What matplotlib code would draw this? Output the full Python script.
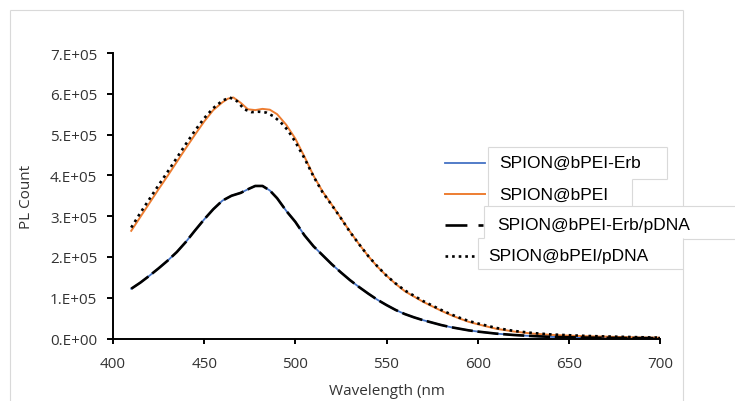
import matplotlib
matplotlib.use("Agg")
import matplotlib.pyplot as plt

# ---------------- data ----------------
wl_bpei = [410, 415, 420, 425, 430, 435, 440, 445, 450, 455, 460, 463, 466, 470, 474, 478, 482, 486, 490, 495,
           500, 505, 510, 515, 520, 525, 530, 535, 540, 545, 550, 555, 560, 565, 570, 575, 580, 585, 590, 595,
           600, 610, 620, 630, 640, 650, 660, 670, 680, 690, 700]
pl_bpei = [2.64, 2.98, 3.32, 3.66, 3.99, 4.33, 4.67, 5.00, 5.32, 5.60, 5.79, 5.88, 5.91, 5.78, 5.62, 5.60, 5.63, 5.61, 5.50, 5.24,
           4.90, 4.46, 3.99, 3.60, 3.28, 2.95, 2.62, 2.31, 2.02, 1.76, 1.54, 1.34, 1.16, 1.03, 0.90, 0.79, 0.68, 0.58, 0.49, 0.41,
           0.35, 0.24, 0.17, 0.12, 0.09, 0.07, 0.055, 0.045, 0.035, 0.025, 0.02]

wl_bpei_pdna = [410, 415, 420, 425, 430, 435, 440, 445, 450, 455, 460, 464, 468, 472, 476, 480, 484, 488, 492, 496,
                500, 505, 510, 515, 520, 525, 530, 535, 540, 545, 550, 555, 560, 565, 570, 575, 580, 585, 590, 595,
                600, 610, 620, 630, 640, 650, 660, 670, 680, 690, 700]
pl_bpei_pdna = [2.72, 3.08, 3.42, 3.76, 4.09, 4.43, 4.77, 5.10, 5.40, 5.65, 5.83, 5.91, 5.82, 5.62, 5.55, 5.56, 5.54, 5.45, 5.30, 5.10,
                4.82, 4.42, 3.97, 3.58, 3.27, 2.95, 2.61, 2.31, 2.02, 1.77, 1.54, 1.35, 1.18, 1.05, 0.92, 0.81, 0.70, 0.60, 0.51, 0.43,
                0.37, 0.26, 0.185, 0.135, 0.10, 0.08, 0.062, 0.05, 0.04, 0.03, 0.022]

wl_erb = [410, 415, 420, 425, 430, 435, 440, 445, 450, 455, 460, 465, 470, 475, 478, 482, 486, 490, 495,
          500, 505, 510, 515, 520, 525, 530, 535, 540, 545, 550, 555, 560, 565, 570, 575, 580, 585, 590, 595,
          600, 610, 620, 630, 640, 650, 660, 670, 680, 690, 700]
pl_erb = [1.22, 1.37, 1.54, 1.72, 1.91, 2.12, 2.37, 2.65, 2.92, 3.17, 3.38, 3.50, 3.57, 3.68, 3.74, 3.74, 3.63, 3.44, 3.13,
          2.86, 2.53, 2.26, 2.04, 1.82, 1.62, 1.43, 1.26, 1.10, 0.95, 0.82, 0.70, 0.60, 0.52, 0.45, 0.39, 0.33, 0.28, 0.24, 0.20,
          0.17, 0.12, 0.085, 0.06, 0.04, 0.03, 0.022, 0.016, 0.012, 0.010, 0.008]
pl_erb_pdna = [1.22, 1.37, 1.54, 1.72, 1.91, 2.12, 2.37, 2.65, 2.92, 3.17, 3.38, 3.50, 3.57, 3.68, 3.74, 3.74, 3.63, 3.44, 3.13,
               2.86, 2.53, 2.26, 2.04, 1.82, 1.62, 1.43, 1.26, 1.10, 0.95, 0.82, 0.70, 0.60, 0.52, 0.45, 0.39, 0.33, 0.28, 0.24, 0.20,
               0.17, 0.12, 0.085, 0.06, 0.04, 0.03, 0.022, 0.016, 0.012, 0.010, 0.008]
scale = 1e5

series_labels = ["SPION@bPEI-Erb", "SPION@bPEI", "SPION@bPEI-Erb/pDNA", "SPION@bPEI/pDNA"]
y_ticks = [0, 1e5, 2e5, 3e5, 4e5, 5e5, 6e5, 7e5]
y_tick_labels = ["0.E+00", "1.E+05", "2.E+05", "3.E+05", "4.E+05", "5.E+05", "6.E+05", "7.E+05"]
x_ticks = [400, 450, 500, 550, 600, 650, 700]
x_label = "Wavelength (nm"
y_label = "PL Count"

# ---------------- figure ----------------
W, H = 735, 402
fig = plt.figure(figsize=(W / 100, H / 100), dpi=100)
fig.patch.set_facecolor("white")

ax_l, ax_r, ax_t, ax_b = 113, 660, 54, 339.5
ax = fig.add_axes([ax_l / W, 1 - ax_b / H, (ax_r - ax_l) / W, (ax_b - ax_t) / H])

blue, orange = "#4472C4", "#ED7D31"
ax.plot(wl_erb, [v * scale for v in pl_erb], color=blue, lw=1.3, zorder=2)
ax.plot(wl_bpei, [v * scale for v in pl_bpei], color=orange, lw=1.4, zorder=2)
ax.plot(wl_erb, [v * scale for v in pl_erb_pdna], color="black", lw=1.9,
        dashes=(8, 1.8), dash_capstyle="butt", zorder=3)
ax.plot(wl_bpei_pdna, [v * scale for v in pl_bpei_pdna], color="black", lw=1.9,
        dashes=(1, 1.5), dash_capstyle="butt", zorder=4)

ax.set_xlim(400, 700)
ax.set_ylim(0, 7e5)
ax.set_xticks(x_ticks)
ax.set_xticklabels([str(t) for t in x_ticks])
ax.set_yticks(y_ticks)
ax.set_yticklabels(y_tick_labels)

tick_font = "Open Sans"
lab_col = "#333333"
for lab in ax.get_xticklabels() + ax.get_yticklabels():
    lab.set_fontfamily(tick_font)
    lab.set_fontsize(11)
    lab.set_color(lab_col)

for s in ["top", "right"]:
    ax.spines[s].set_visible(False)
for s in ["left", "bottom"]:
    ax.spines[s].set_linewidth(1.4)
    ax.spines[s].set_color("black")
ax.tick_params(axis="y", direction="out", length=4.3, width=1.4, pad=7)
ax.tick_params(axis="x", direction="out", length=3.5, width=1.4, pad=9.4)

ax.set_xlabel(x_label, fontfamily=tick_font, fontsize=11, color=lab_col, va="center")
ax.xaxis.set_label_coords(0.5, (ax_b - 391.7) / (ax_b - ax_t))
ax.set_ylabel(y_label, fontfamily=tick_font, fontsize=11, color=lab_col, va="center")
ax.yaxis.set_label_coords((27 - ax_l) / (ax_r - ax_l), 0.5)

# ---------------- overlay: frame and legend boxes ----------------
ov = fig.add_axes([0, 0, 1, 1], zorder=5)
ov.set_xlim(0, W)
ov.set_ylim(H, 0)
ov.axis("off")
ov.patch.set_alpha(0)

gray = "#D9D9D9"
segs = [
    ((10, 11), (10, 402)), ((10, 11), (683, 11)), ((683, 11), (683, 207)), ((683, 239), (683, 402)),
    ((488, 148), (667, 148)), ((667, 148), (667, 180)), ((632, 180), (667, 180)), ((488, 148), (488, 207)),
    ((632, 180), (632, 207)),
    ((484, 207), (735, 207)), ((484, 207), (484, 239)), ((683, 240), (735, 240)),
    ((478, 239), (484, 239)), ((478, 239), (478, 270)), ((478, 270), (683, 270)),
]
for (x0, y0), (x1, y1) in segs:
    ov.plot([x0, x1], [y0, y1], color=gray, lw=0.8, solid_capstyle="butt")

leg_font = "Liberation Sans"
ov.plot([445, 485], [163.5, 163.5], color=blue, lw=1.3)
ov.plot([445, 485], [195, 195], color=orange, lw=1.4)
ov.plot([445, 483], [226, 226], color="black", lw=1.9, dashes=(8.3, 4.2), dash_capstyle="butt")
ov.plot([445, 476], [256.5, 256.5], color="black", lw=1.9, dashes=(1, 1.5), dash_capstyle="butt")

text_pos = [(499, 163.5), (499, 195), (497, 226), (488, 256.5)]
for (tx, ty), lab in zip(text_pos, series_labels):
    ov.text(tx, ty, lab, fontfamily=leg_font, fontsize=12.5, color="black", ha="left", va="center")

fig.savefig("out.png", dpi=100)
